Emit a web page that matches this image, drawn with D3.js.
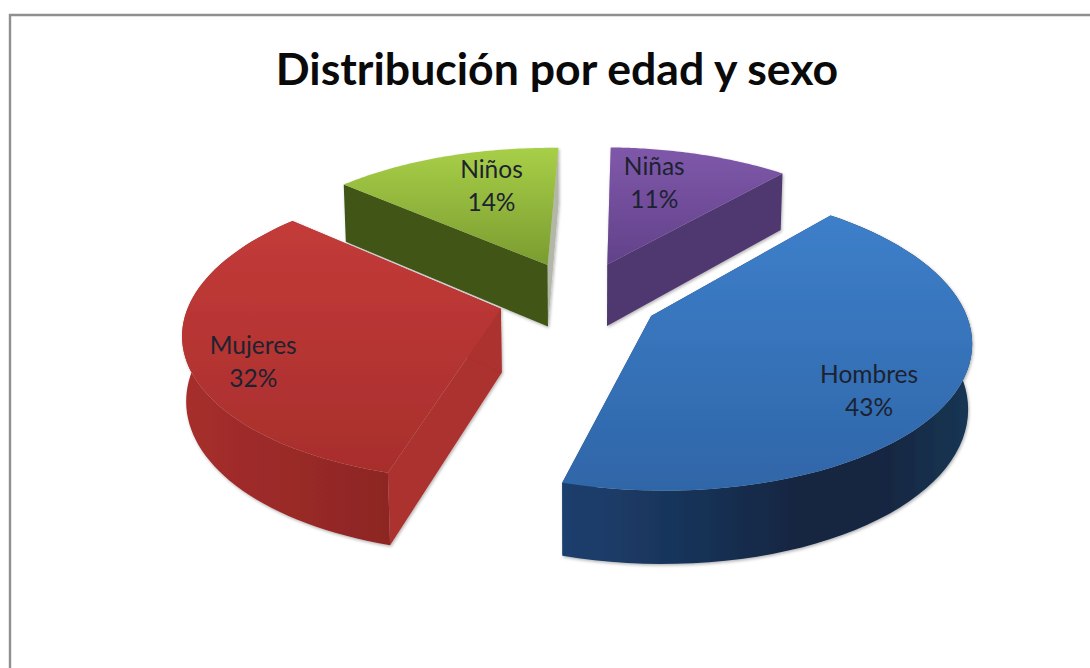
<!DOCTYPE html>
<html><head><meta charset="utf-8">
<script src="https://cdn.jsdelivr.net/npm/d3@7/dist/d3.min.js"></script>
<style>html,body{margin:0;padding:0;background:#fff}svg{display:block}</style></head>
<body><svg id="c" width="1090" height="668"></svg>
<script>
const chartTitle = "Distribución por edad y sexo";
const categories = ["Niñas","Hombres","Mujeres","Niños"];
const values = [11,43,32,14];
const topLight = ["#7f58aa","#3d7fca","#c33b39","#a8cf48"];
const topDark  = ["#62428a","#2f66a8","#a82e2c","#7a9c30"];
const startWall = ["#b9b3c2","#1e3f6c","#ab302d","#3f5518"];
const endWall   = ["#50376f","#1e3f6c","#ab302d","#b3b7a8"];
const rimStops = [
  null,
  ["#1d3f6e","#1a3861","#162e50","#12253f","#132842","#1a3655"],
  ["#a62e2c","#9a2a28","#8c2523","#701c1a"],
  null];
const labelShift = [-6.5,7.3,-7.6,5.8];
const labelRadius = [.71,.775,.81,.7];

const W=1090,H=668,cx=579,cy=298,R=310,E=.26,ky=.462,p=.146,q=.01,D=64;
const startDeg=1.5;
const rad=d=>d*Math.PI/180;
const svg=d3.select("#c");
const defs=svg.append("defs");
const proj=(X,Y,Z)=>{const s=1/(1+p*Y+q*Z);return [cx+R*X*s, cy-R*ky*Y*s+D*Z*s];};

const pie=d3.pie().sort(null).value(d=>d).startAngle(rad(startDeg)).endAngle(rad(startDeg+360));
const arcs=pie(values);
const lineGen=d3.line();

// frame
svg.append("path").attr("d",lineGen([[10,H],[10,15],[W,15]])).attr("fill","none").attr("stroke","#8f8f8f").attr("stroke-width",2.4);

svg.append("text").attr("x",557).attr("y",85).attr("text-anchor","middle")
  .attr("font-family","Lato").attr("font-weight",700).attr("font-size",44.6).attr("fill","#0a0a0a").text(chartTitle);

const geom=arcs.map((a,i)=>{
  const m=(a.startAngle+a.endAngle)/2, ox=E*Math.sin(m), oy=E*Math.cos(m);
  const P=(ang,r,z)=>proj(ox+r*Math.sin(ang),oy+r*Math.cos(ang),z);
  const angs=d3.range(0,61).map(k=>a.startAngle+(a.endAngle-a.startAngle)*k/60);
  return {a,i,m,P,angs};
});

function gradV(id,c1,c2,y1,y2){const g=defs.append("linearGradient").attr("id",id).attr("gradientUnits","userSpaceOnUse").attr("x1",0).attr("x2",0).attr("y1",y1).attr("y2",y2);
  g.append("stop").attr("offset",0).attr("stop-color",c1);g.append("stop").attr("offset",1).attr("stop-color",c2);}
function gradH(id,cols,x1,x2){const g=defs.append("linearGradient").attr("id",id).attr("gradientUnits","userSpaceOnUse").attr("y1",0).attr("y2",0).attr("x1",x1).attr("x2",x2);
  cols.forEach((c,k)=>g.append("stop").attr("offset",k/(cols.length-1)).attr("stop-color",c));}

const shadow=defs.append("filter").attr("id","sh").attr("x","-5%").attr("y","-5%").attr("width","110%").attr("height","110%");
shadow.append("feDropShadow").attr("dx",1).attr("dy",1.5).attr("stdDeviation",1.6).attr("flood-color","#000").attr("flood-opacity",.3);

// back slices first
const order=[3,0,2,1];
order.forEach(i=>{
  const g=geom[i],{a,P,angs}=g;
  const top=[P(0,0,0),...angs.map(t=>P(t,1,0))];
  const ys=top.map(d=>d[1]),xs=top.map(d=>d[0]);
  gradV("t"+i,topLight[i],topDark[i],d3.min(ys),d3.max(ys));
  const G=svg.append("g").attr("filter","url(#sh)");
  [[a.startAngle,startWall[i]],[a.endAngle,endWall[i]]].forEach(([t,c])=>{
    const wall=[P(t,0,0),P(t,1,0),P(t,1,1),P(t,0,1)];
    G.append("path").attr("d",lineGen(wall)+"Z").attr("fill",c);
  });
  if(rimStops[i]){
    gradH("r"+i,rimStops[i],d3.min(xs),d3.max(xs));
    const rim=[...angs.map(t=>P(t,1,0)),...angs.slice().reverse().map(t=>P(t,1,1))];
    G.append("path").attr("d",lineGen(rim)+"Z").attr("fill",`url(#r${i})`);
  }
  G.append("path").attr("d",lineGen(top)+"Z").attr("fill",`url(#t${i})`);
});

// labels
geom.forEach(g=>{
  const i=g.i,ang=g.m+rad(labelShift[i]);
  const [x,y]=g.P(ang,labelRadius[i],0);
  const t=svg.append("text").attr("text-anchor","middle").attr("font-family","Lato").attr("font-size",24.5).attr("fill","#1c2230");
  t.append("tspan").attr("x",x).attr("y",y-5.5).text(categories[i]);
  t.append("tspan").attr("x",x).attr("y",y+27.5).text(values[i]+"%");
});
</script></body></html>
